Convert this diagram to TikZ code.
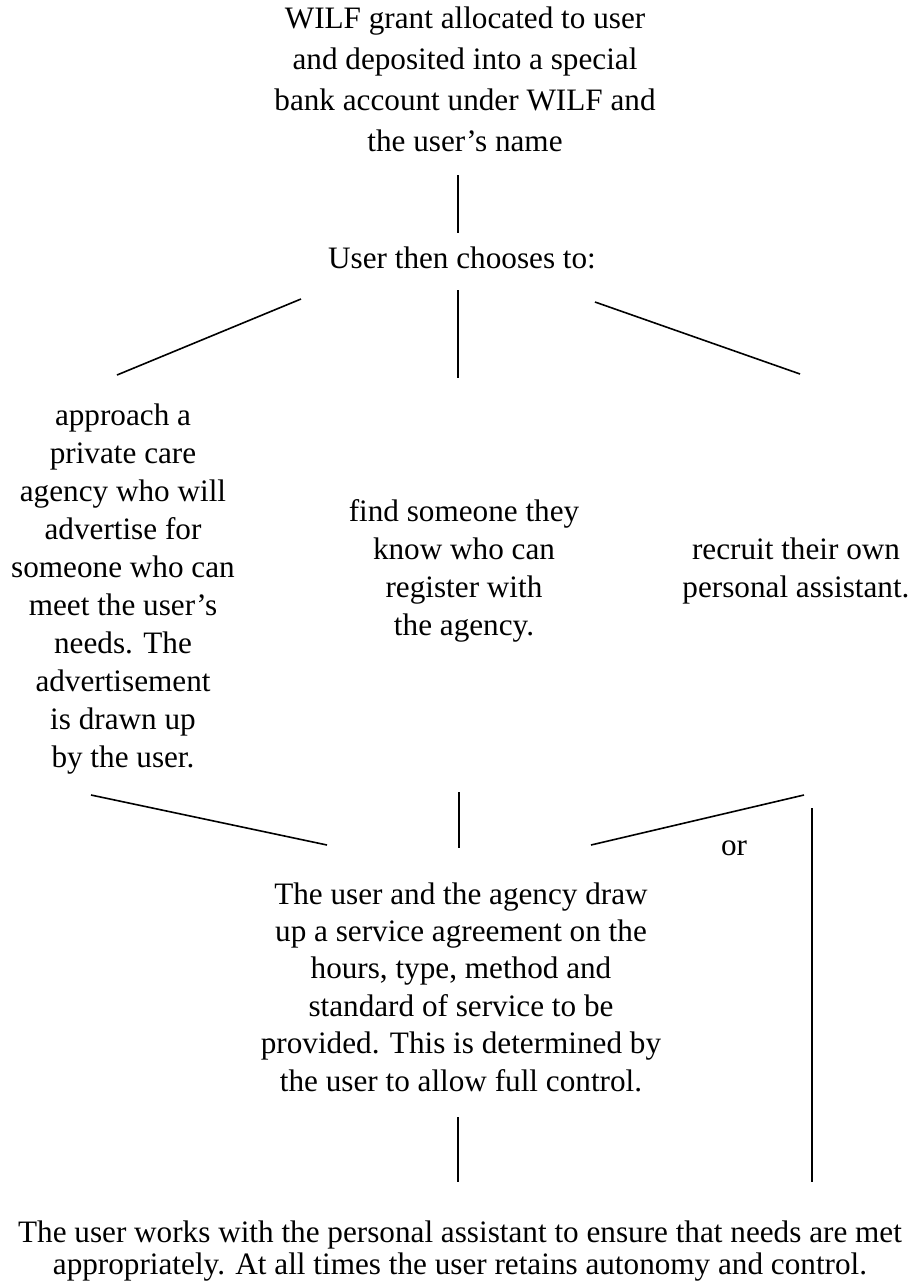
\documentclass[tikz,border=0pt]{standalone}
\usepackage{fontspec}
\setmainfont{Liberation Serif}
\usetikzlibrary{positioning}

\tikzset{
  txt/.style={align=center, inner sep=0pt, font=\fontsize{15.6}{#1}\selectfont},
  txt/.default=19,
  link/.style={line width=0.8pt}
}

\begin{document}
\begin{tikzpicture}[x=0.5pt,y=-0.5pt]
\useasboundingbox (0,0) rectangle (912,1281);

% Texts
\node[txt=20.5] (grant) at (465,79) {WILF grant allocated to user\\and deposited into a special\\bank account under WILF and\\the user's name};
\node[txt] (choose) at (462,258) {User then chooses to:};
\node[txt=19] (agency) at (123,589) {approach a\\private care\\agency who will\\advertise for\\someone who can\\meet the user's\\needs. The\\advertisement\\is drawn up\\by the user.};
\node[txt=19] (friend) at (464,571) {find someone they\\know who can\\register with\\the agency.};
\node[txt=19] (recruit) at (796,571) {recruit their own\\personal assistant.};
\node[txt] (or) at (734,848) {or};
\node[txt=18.7] (deal) at (461,987) {The user and the agency draw\\up a service agreement on the\\hours, type, method and\\standard of service to be\\provided. This is determined by\\the user to allow full control.};
\node[txt=16] (work) at (460,1251) {The user works with the personal assistant to ensure that needs are met\\appropriately. At all times the user retains autonomy and control.};

% Line ends
\coordinate (c1) at (458,175);
\coordinate (c2) at (458,233);
\coordinate (l1) at (301,299);
\coordinate (l2) at (117,375);
\coordinate (m1) at (458,290);
\coordinate (m2) at (458,378);
\coordinate (r1) at (595,302);
\coordinate (r2) at (800,374);
\coordinate (a1) at (91,795);
\coordinate (a2) at (327,845);
\coordinate (b1) at (459,792);
\coordinate (b2) at (459,848);
\coordinate (d1) at (804,795);
\coordinate (d2) at (591,845);
\coordinate (v1) at (812,808);
\coordinate (v2) at (812,1182);
\coordinate (e1) at (458,1117);
\coordinate (e2) at (458,1182);

% Connectors
\draw[link] (c1) -- (c2);
\draw[link] (l1) -- (l2);
\draw[link] (m1) -- (m2);
\draw[link] (r1) -- (r2);
\draw[link] (a1) -- (a2);
\draw[link] (b1) -- (b2);
\draw[link] (d1) -- (d2);
\draw[link] (v1) -- (v2);
\draw[link] (e1) -- (e2);
\end{tikzpicture}
\end{document}
